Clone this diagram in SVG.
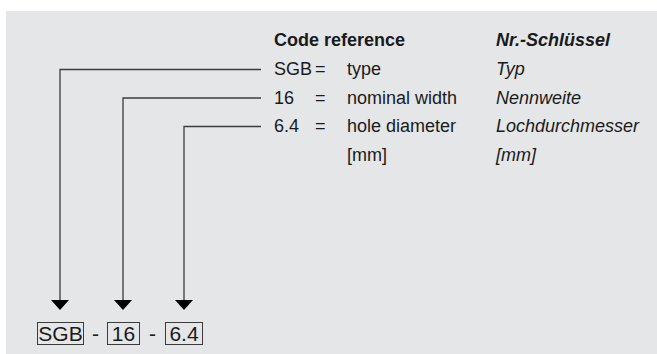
<svg xmlns="http://www.w3.org/2000/svg" width="657" height="354" viewBox="0 0 657 354">
<defs>
<style>
.t{font-family:"Liberation Sans",Arial,sans-serif;font-size:18px;fill:#1a1a1a}
.b{font-weight:bold}
.i{font-style:italic}
.code{font-family:"Liberation Sans",Arial,sans-serif;font-size:21px;fill:#1a1a1a}
.ln{fill:none;stroke:#3c3c3c;stroke-width:1.3}
.box{fill:none;stroke:#3c3c3c;stroke-width:1}
.ah{fill:#000}
</style>
</defs>
<rect x="6" y="11" width="651" height="343" fill="#e5e6e8"/>
<g id="legend">
<text class="t b" x="274" y="46">Code reference</text>
<text class="t b i" x="496" y="46">Nr.-Schlüssel</text>
<text class="t" x="274" y="75">SGB</text><text class="t" x="315" y="75">=</text><text class="t" x="347" y="75">type</text><text class="t i" x="496" y="75">Typ</text>
<text class="t" x="274" y="103.5">16</text><text class="t" x="315" y="103.5">=</text><text class="t" x="347" y="103.5">nominal width</text><text class="t i" x="496" y="103.5">Nennweite</text>
<text class="t" x="274" y="132">6.4</text><text class="t" x="315" y="132">=</text><text class="t" x="347" y="132">hole diameter</text><text class="t i" x="496" y="132">Lochdurchmesser</text>
<text class="t" x="347" y="160.5">[mm]</text><text class="t i" x="496" y="160.5">[mm]</text>
</g>
<g id="connectors">
<path class="ln" d="M261,69.5 H60 V301"/>
<path class="ln" d="M261,98 H123 V301"/>
<path class="ln" d="M261,126.5 H184 V301"/>
<polygon class="ah" points="51,300 69,300 60,310"/>
<polygon class="ah" points="114,300 132,300 123,310"/>
<polygon class="ah" points="175,300 193,300 184,310"/>
</g>
<g id="code-SGB">
<rect class="box" x="37.5" y="322.5" width="46" height="22"/>
<text class="code" x="60.5" y="341" text-anchor="middle">SGB</text>
</g>
<text class="code" x="95.5" y="341" text-anchor="middle">-</text>
<g id="code-16">
<rect class="box" x="107.5" y="322.5" width="32" height="22"/>
<text class="code" x="123.5" y="341" text-anchor="middle">16</text>
</g>
<text class="code" x="152.5" y="341" text-anchor="middle">-</text>
<g id="code-6.4">
<rect class="box" x="165.5" y="322.5" width="37" height="22"/>
<text class="code" x="184" y="341" text-anchor="middle">6.4</text>
</g>
</svg>
